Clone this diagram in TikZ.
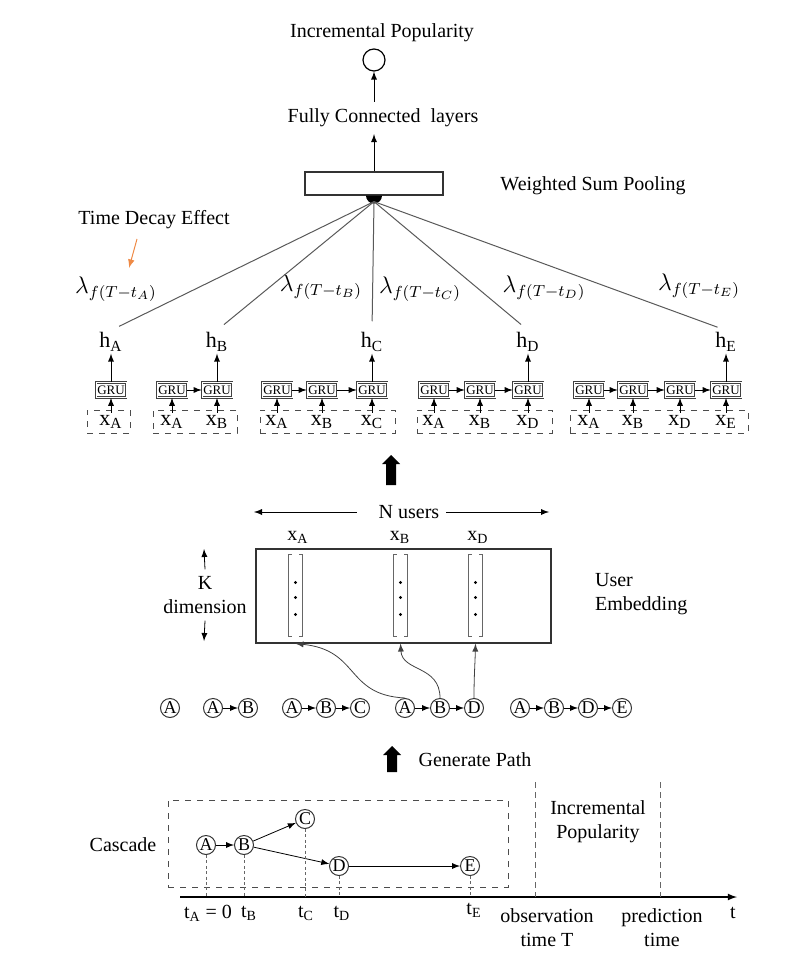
\documentclass[tikz,border=0pt]{standalone}
\usepackage{fontspec}
\setmainfont{Liberation Serif}
\usepackage{amsmath,amssymb}
\usepackage{tikz}
\usetikzlibrary{arrows,positioning}
\definecolor{tdorange}{RGB}{238,138,70}

\begin{document}
\begin{tikzpicture}[x=0.5pt,y=-0.5pt,>=latex,
		gru/.style={draw=black!75, double, double distance=0.5pt, line width=0.35pt, minimum width=15pt, minimum height=7.5pt, inner sep=0pt, font=\fontsize{6.5}{7}\selectfont},
		usr/.style={circle, draw=black!80, line width=0.5pt, minimum size=9.5pt, inner sep=0pt, font=\small},
		seqbox/.style={draw=black!70, dashed, line width=0.5pt, minimum height=11.5pt, inner sep=0pt},
		xlab/.style={font=\fontsize{11}{13}\selectfont, inner sep=1pt},
		lam/.style={font=\large, inner sep=1pt},
		wline/.style={draw=black!65, line width=0.5pt, shorten >=4.5pt},
		droptick/.style={draw=black!60, dash pattern=on 1.5pt off 1.2pt, line width=0.4pt},
		timeline/.style={draw=black!60, dash pattern=on 3pt off 2pt, line width=0.4pt},
		embcol/.style={minimum width=6.5pt, minimum height=40.5pt, inner sep=0pt}]
	\useasboundingbox (0,0) rectangle (802,972);

	\node (poptitle) at (382,33) {Incremental Popularity};
	\node[circle, draw, line width=0.6pt, minimum size=11pt, inner sep=0pt] (out) at (374,60) {};
	\node (fclayers) at (383,118) {Fully Connected\ \ layers};
	\node[draw=black!80, line width=0.6pt, minimum width=69pt, minimum height=11.5pt] (pool) at (374,183.5) {};
	\node (poollabel) at (593,186) {Weighted Sum Pooling};
	\draw[->] (pool.north) -- (pool.north |- fclayers.south);
	\draw[->] (out |- fclayers.north) -- (out.south);
	\fill (pool.south) ++(-8,0) arc[start angle=180,end angle=0,radius=8] -- cycle;
	\coordinate (hub) at ([yshift=-3pt]pool.south);

	\node (tdecay) at (154,220) {Time Decay Effect};
	\coordinate (tdtail) at (137,239);
	\coordinate (tdtip) at (129,268);
	\draw[->, tdorange, line width=0.5pt] (tdtail) -- (tdtip);

	\node[lam] (lamA) at (116,289) {$\lambda_{f(T-t_A)}$};
	\node[lam] (lamB) at (321,287) {$\lambda_{f(T-t_B)}$};
	\node[lam] (lamC) at (420,289) {$\lambda_{f(T-t_C)}$};
	\node[lam] (lamD) at (544,288) {$\lambda_{f(T-t_D)}$};
	\node[lam] (lamE) at (699,286) {$\lambda_{f(T-t_E)}$};

	\node[seqbox, minimum width=21.5pt] (seqA) at (108.5,421.5) {};
	\node[seqbox, minimum width=42pt] (seqB) at (195,421.5) {};
	\node[seqbox, minimum width=67.5pt] (seqC) at (327.5,421.5) {};
	\node[seqbox, minimum width=67.5pt] (seqD) at (484.5,421.5) {};
	\node[seqbox, minimum width=89pt] (seqE) at (659,421.5) {};

	\node[gru] (gA1) at (111,390) {GRU};
	\node[xlab] (xA1) at (111,422) {x\textsubscript{A}};
	\draw[->] (xA1) -- (gA1);
	\node[xlab] (hA) at (111,342) {h\textsubscript{A}};
	\draw[->] (gA1) -- (hA);

	\foreach \i/\x/\s in {1/172/A,2/217/B}{
		\node[gru] (gB\i) at (\x,390) {GRU};
		\node[xlab] (xB\i) at (\x,422) {x\textsubscript{\s}};
		\draw[->] (xB\i) -- (gB\i);
	}
	\draw[->] (gB1) -- (gB2);
	\node[xlab] (hB) at (217,342) {h\textsubscript{B}};
	\draw[->] (gB2) -- (hB);

	\foreach \i/\x/\s in {1/277/A,2/322/B,3/372/C}{
		\node[gru] (gC\i) at (\x,390) {GRU};
		\node[xlab] (xC\i) at (\x,422) {x\textsubscript{\s}};
		\draw[->] (xC\i) -- (gC\i);
	}
	\foreach \i/\j in {1/2,2/3} \draw[->] (gC\i) -- (gC\j);
	\node[xlab] (hC) at (372,342) {h\textsubscript{C}};
	\draw[->] (gC3) -- (hC);

	\foreach \i/\x/\s in {1/434/A,2/480/B,3/528/D}{
		\node[gru] (gD\i) at (\x,390) {GRU};
		\node[xlab] (xD\i) at (\x,422) {x\textsubscript{\s}};
		\draw[->] (xD\i) -- (gD\i);
	}
	\foreach \i/\j in {1/2,2/3} \draw[->] (gD\i) -- (gD\j);
	\node[xlab] (hD) at (528,342) {h\textsubscript{D}};
	\draw[->] (gD3) -- (hD);

	\foreach \i/\x/\s in {1/589/A,2/633/B,3/680/D,4/726/E}{
		\node[gru] (gE\i) at (\x,390) {GRU};
		\node[xlab] (xE\i) at (\x,422) {x\textsubscript{\s}};
		\draw[->] (xE\i) -- (gE\i);
	}
	\foreach \i/\j in {1/2,2/3,3/4} \draw[->] (gE\i) -- (gE\j);
	\node[xlab] (hE) at (726,342) {h\textsubscript{E}};
	\draw[->] (gE4) -- (hE);

	\foreach \h in {hA,hB,hC,hD,hE} \draw[wline] (hub) -- (\h.north);

	\fill[shift={(391,455)}] (0,0) -- (9,9) -- (5,9) -- (5,30) -- (-5,30) -- (-5,9) -- (-9,9) -- cycle;

	\node (nusers) at (409,512) {N users};
	\coordinate (nleft) at (254,512);
	\coordinate (nright) at (549,512);
	\draw[->, shorten <=7.5pt] (nusers.west) -- (nleft);
	\draw[->] (nusers.east) -- (nright);
	\node[draw=black!80, line width=0.6pt, minimum width=147.5pt, minimum height=47pt] (emb) at (403.5,596) {};
	\node[embcol] (colA) at (295.5,595.5) {};
	\node[embcol] (colB) at (400.5,595.5) {};
	\node[embcol] (colD) at (475.5,595.5) {};
	\foreach \c in {colA,colB,colD}{
		\draw[black!60, line width=0.4pt] ([xshift=1.5pt]\c.north west) -- (\c.north west) -- (\c.south west) -- ([xshift=1.5pt]\c.south west);
		\draw[black!60, line width=0.4pt] ([xshift=-1.5pt]\c.north east) -- (\c.north east) -- (\c.south east) -- ([xshift=-1.5pt]\c.south east);
		\foreach \d in {-13,2,19} \fill (\c.center) ++(0,\d) circle (0.8pt);
	}
	\node (exA) at (298,537) {x\textsubscript{A}};
	\node (exB) at (400,537) {x\textsubscript{B}};
	\node (exD) at (478,537) {x\textsubscript{D}};
	\node[align=center] (kdim) at (205,595) {K\\dimension};
	\coordinate (ktop) at (204,549);
	\coordinate (kbot) at (204,641);
	\draw[->] (kdim.north) -- (ktop);
	\draw[->] (kdim.south) -- (kbot);
	\node[align=left, anchor=west] (userlabel) at (588,594) {User\\Embedding};

	\node[usr] (p1a) at (170,708) {A};
	\node[usr] (p2a) at (213,708) {A};
	\node[usr, right=7.5pt of p2a] (p2b) {B};
	\node[usr] (p3a) at (292,708) {A};
	\node[usr, right=7pt of p3a] (p3b) {B};
	\node[usr, right=7pt of p3b] (p3c) {C};
	\node[usr] (p4a) at (405,708) {A};
	\node[usr, right=7.5pt of p4a] (p4b) {B};
	\node[usr, right=7pt of p4b] (p4d) {D};
	\node[usr] (p5a) at (520,708) {A};
	\node[usr, right=7pt of p5a] (p5b) {B};
	\node[usr, right=7pt of p5b] (p5d) {D};
	\node[usr, right=7pt of p5d] (p5e) {E};
	\draw[->] (p2a) -- (p2b);
	\draw[->] (p3a) -- (p3b);
	\draw[->] (p3b) -- (p3c);
	\draw[->] (p4a) -- (p4b);
	\draw[->] (p4b) -- (p4d);
	\draw[->] (p5a) -- (p5b);
	\draw[->] (p5b) -- (p5d);
	\draw[->] (p5d) -- (p5e);
	\draw[->, black!75] (p4a.north) .. controls (345,695) and (360,650) .. (colA |- emb.south);
	\draw[->, black!75] (p4b.north) .. controls (440,665) and (402,672) .. (colB |- emb.south);
	\draw[->, black!75] (p4d.north) .. controls (474,675) and (475,665) .. (colD |- emb.south);

	\fill[shift={(392,746)}] (0,0) -- (9,9) -- (5,9) -- (5,26) -- (-5,26) -- (-5,9) -- (-9,9) -- cycle;
	\node (genpath) at (475,760) {Generate Path};

	\node[seqbox, minimum width=170pt, minimum height=43.5pt] (cascbox) at (338,843.5) {};
	\node (casclabel) at (123,845) {Cascade};
	\node[usr] (cA) at (206,845) {A};
	\node[usr] (cB) at (244,845) {B};
	\node[usr] (cC) at (305,819) {C};
	\node[usr] (cD) at (339,866) {D};
	\node[usr] (cE) at (470,866) {E};
	\draw[->] (cA) -- (cB);
	\draw[->] (cB) -- (cC);
	\draw[->] (cB) -- (cD);
	\draw[->] (cD) -- (cE);
	\coordinate (axl) at (180,897);
	\coordinate (axr) at (737,897);
	\draw[->, line width=0.6pt] (axl) -- (axr);
	\foreach \c in {cA,cB,cC,cD,cE} \draw[droptick] (\c.south) -- (\c |- axl);
	\coordinate (obstop) at (535,782);
	\coordinate (predtop) at (660,782);
	\draw[timeline] (obstop) -- (obstop |- axl);
	\draw[timeline] (predtop) -- (predtop |- axl);
	\node[align=center] (incpop) at (598,822) {Incremental\\Popularity};
	\node (ltA) at (208,913) {t\textsubscript{A} = 0};
	\node (ltB) at (249,913) {t\textsubscript{B}};
	\node (ltC) at (306,913) {t\textsubscript{C}};
	\node (ltD) at (342,913) {t\textsubscript{D}};
	\node (ltE) at (474,910) {t\textsubscript{E}};
	\node[align=center] (lobs) at (547,928) {observation\\time T};
	\node[align=center] (lpred) at (662,928) {prediction\\time};
	\node (lt) at (733,913) {t};
\end{tikzpicture}
\end{document}
